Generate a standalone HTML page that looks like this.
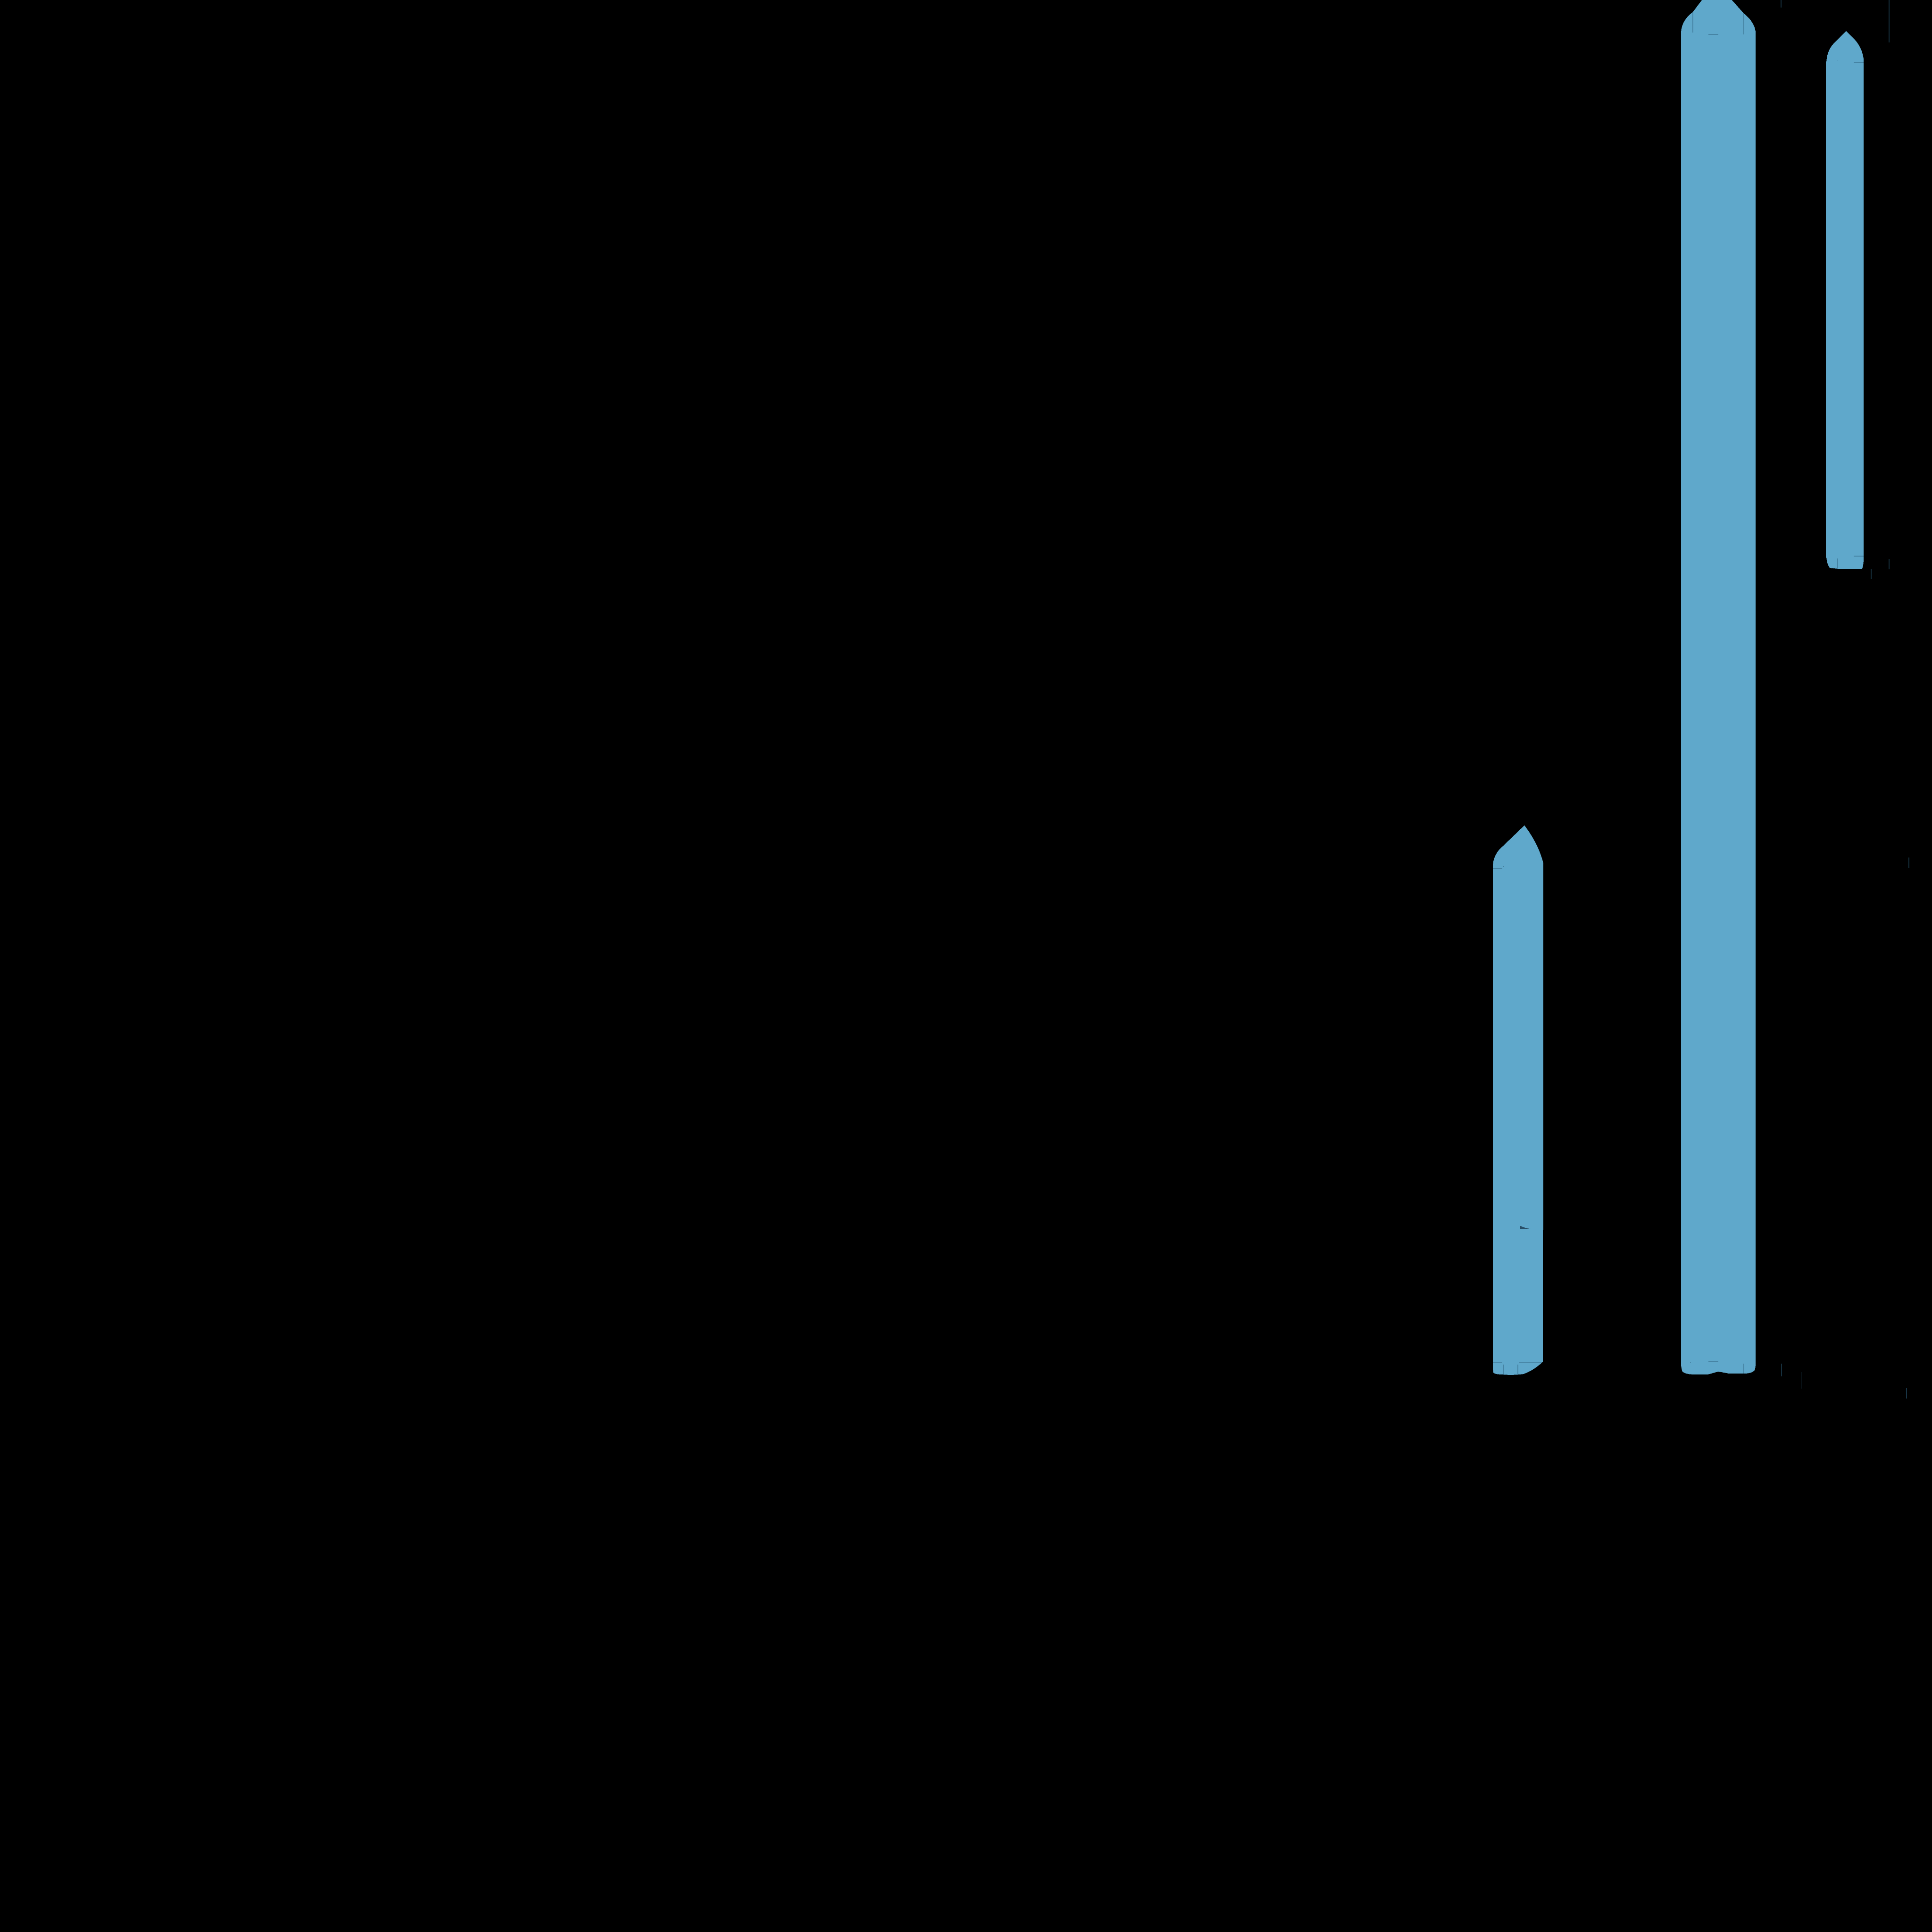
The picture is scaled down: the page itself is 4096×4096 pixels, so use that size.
<!DOCTYPE html>
<html lang="en">
<head>
<meta charset="utf-8">
<title>Range bars on black</title>
<style>
html,body{margin:0;padding:0;background:#000;width:4096px;height:4096px;overflow:hidden}
svg{display:block}
</style>
</head>
<body>
<svg id="chart" width="4096" height="4096" viewBox="0 0 4096 4096" xmlns="http://www.w3.org/2000/svg" shape-rendering="crispEdges">
<rect x="0" y="0" width="4096" height="4096" fill="#000000"></rect>
<g id="bars"></g>
<g id="marks"></g>
</svg>
<script>
// Values are read on a 0-100 scale along each axis.
const categories = ["bar-a", "bar-b", "bar-c"];
const barStart = [77.27, 87.01, 94.51];
const barEnd = [79.88, 90.87, 96.46];
const barLow = [28.83, 28.86, 70.56];
const barHigh = [57.28, 100.94, 98.39];

const vTickAt = [87.62, 90.26, 95.12, 77.83, 78.56, 90.26, 92.19, 97.78, 97.78, 96.85, 98.80, 92.21, 93.22, 98.67];
const vTickFrom = [98.32, 98.22, 70.56, 28.83, 28.83, 28.91, 99.61, 97.80, 70.53, 70.02, 55.08, 28.76, 28.13, 27.61];
const vTickTo = [99.39, 99.32, 71.09, 29.37, 29.37, 29.42, 100, 100, 71.07, 70.56, 55.62, 29.42, 28.98, 28.15];

const hTickAt = [98.22, 96.78, 71.22, 55.05, 29.49, 29.49, 29.52];
const hTickFrom = [88.43, 95.95, 95.95, 77.27, 77.27, 78.64, 88.43];
const hTickTo = [88.94, 96.46, 96.46, 77.76, 77.76, 79.83, 88.94];

const dotX = [95.12, 77.81, 78.66, 87.50];
const dotY = [96.88, 55.15, 55.08, 29.49];

const SVGNS = "http://www.w3.org/2000/svg";
const PLOT = 4096;
function xAxis(v) { return v / 100 * PLOT; }
function yAxis(v) { return PLOT - v / 100 * PLOT; }

function barPath(i) {
  const l = xAxis(barStart[i]);
  const r = xAxis(barEnd[i]);
  const t = yAxis(barHigh[i]);
  const b = yAxis(barLow[i]);
  const p = (x, y) => x.toFixed(1) + "," + y.toFixed(1);
  if (i === 0) {
    return "M" + p(l, b - 13) +
      " L" + p(l, t + 83) +
      " Q" + p(l + 3, t + 62) + " " + p(l + 15, t + 50) +
      " L" + p(l + 67, t) +
      " Q" + p(r - 10, t + 40) + " " + p(r, t + 80) +
      " L" + p(r, b - 307) + " L" + p(r - 1, b - 307) +
      " L" + p(r - 1, b - 27) + " L" + p(r - 2, b - 27) +
      " Q" + p(r - 20, b - 10) + " " + p(r - 42, b - 2) +
      " Q" + p(r - 67, b + 1) + " " + p(l + 21, b - 1) +
      " Q" + p(l + 5, b - 1) + " " + p(l + 1, b - 5) + " Z";
  }
  if (i === 1) {
    return "M" + p(l, b - 19) +
      " L" + p(l, t + 106) +
      " Q" + p(l + 2, t + 81) + " " + p(l + 25, t + 64) +
      " L" + p(l + 73.5, t) +
      " L" + p(r - 25, t + 67) +
      " Q" + p(r - 3, t + 84) + " " + p(r, t + 106) +
      " L" + p(r, b - 19) +
      " L" + p(r - 1, b - 12) +
      " Q" + p(r - 2, b - 4) + " " + p(r - 19, b - 2) +
      " L" + p(r - 57, b - 2) +
      " L" + p(r - 79, b - 6) +
      " L" + p(r - 101, b) +
      " L" + p(l + 24, b) +
      " Q" + p(l + 5, b - 1) + " " + p(l + 2, b - 8) + " Z";
  }
  return "M" + p(l, b - 24) +
    " L" + p(l, t + 65) +
    " L" + p(l + 1, t + 65) +
    " Q" + p(l + 3, t + 38) + " " + p(l + 19, t + 24) +
    " L" + p(l + 43, t) +
    " L" + p(r - 18, t + 19) +
    " Q" + p(r - 3, t + 36) + " " + p(r, t + 59) +
    " L" + p(r, b - 17) + " L" + p(r - 1, b - 7) + " L" + p(r - 3, b) +
    " L" + p(l + 24, b) + " L" + p(l + 8, b - 2) +
    " Q" + p(l + 3, b - 8) + " " + p(l + 1, b - 24) + " Z";
}

const barsLayer = document.getElementById("bars");
categories.forEach(function (name, i) {
  const el = document.createElementNS(SVGNS, "path");
  el.setAttribute("d", barPath(i));
  el.setAttribute("fill", "#5fa8cb");
  
  
  barsLayer.appendChild(el);
});

const marksLayer = document.getElementById("marks");
vTickAt.forEach(function (v, i) {
  const el = document.createElementNS(SVGNS, "line");
  el.setAttribute("x1", xAxis(v));
  el.setAttribute("x2", xAxis(v));
  el.setAttribute("y1", yAxis(vTickFrom[i]));
  el.setAttribute("y2", yAxis(vTickTo[i]));
  el.setAttribute("stroke", "#2d5f7c");
  el.setAttribute("stroke-width", "1");
  
  
  marksLayer.appendChild(el);
});
hTickAt.forEach(function (v, i) {
  const el = document.createElementNS(SVGNS, "line");
  el.setAttribute("y1", yAxis(v));
  el.setAttribute("y2", yAxis(v));
  el.setAttribute("x1", xAxis(hTickFrom[i]));
  el.setAttribute("x2", xAxis(hTickTo[i]));
  el.setAttribute("stroke", "#2d5f7c");
  el.setAttribute("stroke-width", "1");
  
  
  marksLayer.appendChild(el);
});
dotX.forEach(function (v, i) {
  const el = document.createElementNS(SVGNS, "rect");
  el.setAttribute("x", xAxis(v));
  el.setAttribute("y", yAxis(dotY[i]));
  el.setAttribute("width", "1");
  el.setAttribute("height", "1");
  el.setAttribute("fill", "#2d5f7c");
  
  
  marksLayer.appendChild(el);
});

const wedge = document.createElementNS(SVGNS, "path");
const wx = xAxis(barStart[0]) + 57;
const wy = yAxis(barLow[0]) - 309;
wedge.setAttribute("d", "M" + wx + "," + (wy - 8) + " L" + wx + "," + wy + " L" + (wx + 26) + "," + wy + " Q" + (wx + 8) + "," + (wy - 3) + " " + wx + "," + (wy - 8) + " Z");
wedge.setAttribute("fill", "#284f68");


marksLayer.appendChild(wedge);
</script>
</body>
</html>
